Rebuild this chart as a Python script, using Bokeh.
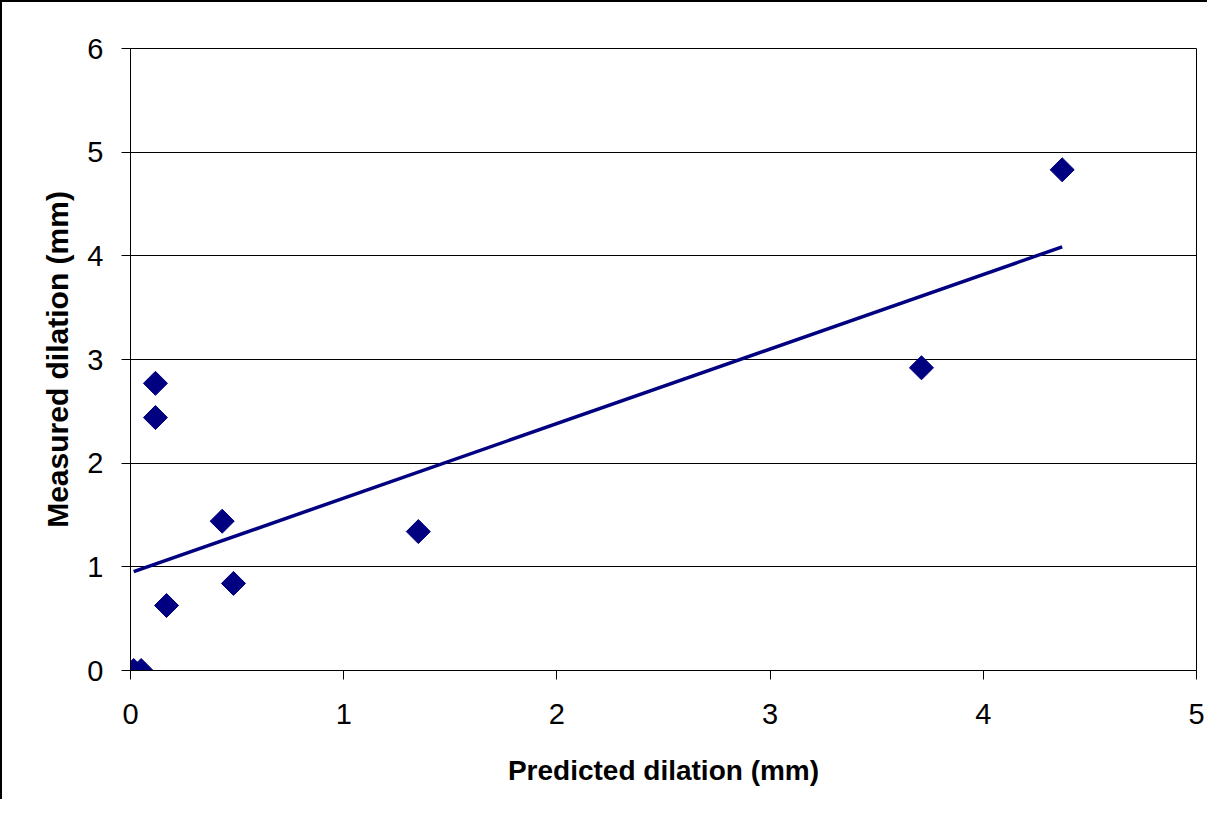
import numpy as np
from bokeh.plotting import figure
from bokeh.models import Range1d, FixedTicker, ColumnDataSource
from bokeh.embed import file_html
from bokeh.resources import INLINE

# Data
predicted = [0.015, 0.05, 0.117, 0.117, 0.169, 0.43, 0.483, 1.35, 3.71, 4.37]
measured = [0.0, 0.0, 2.77, 2.44, 0.627, 1.44, 0.84, 1.34, 2.92, 4.83]
x_ticks = [0, 1, 2, 3, 4, 5]
y_ticks = [0, 1, 2, 3, 4, 5, 6]

NAVY = "#000080"

p = figure(width=1207, height=799, output_backend="svg", toolbar_location=None,
           x_range=Range1d(0, 5), y_range=Range1d(0, 6),
           min_border_left=128, min_border_right=13, min_border_top=46, min_border_bottom=131)
p.styles = {"border-left": "2px solid black", "border-top": "2px solid black"}

p.outline_line_color = "black"
p.outline_line_width = 1

p.xgrid.grid_line_color = None
p.ygrid.grid_line_color = "black"
p.ygrid.grid_line_width = 1
p.ygrid.ticker = FixedTicker(ticks=y_ticks)

for ax in (p.xaxis, p.yaxis):
    ax.axis_line_color = "black"
    ax.axis_line_width = 1
    ax.major_tick_line_color = "black"
    ax.major_tick_out = 9
    ax.major_tick_in = 0
    ax.minor_tick_line_color = None
    ax.major_label_text_font = "Liberation Sans"
    ax.major_label_text_font_size = "29px"
    ax.major_label_text_color = "black"
    ax.axis_label_text_font = "Liberation Sans"
    ax.axis_label_text_font_style = "bold"
    ax.axis_label_text_color = "black"

p.xaxis.ticker = FixedTicker(ticks=x_ticks)
p.yaxis.ticker = FixedTicker(ticks=y_ticks)
p.xaxis.major_label_standoff = 24
p.yaxis.major_label_standoff = 18
p.xaxis.axis_label = "Predicted dilation (mm)"
p.yaxis.axis_label = "Measured dilation (mm)"
p.xaxis.axis_label_text_font_size = "28px"
p.yaxis.axis_label_text_font_size = "30px"
p.xaxis.axis_label_standoff = 28
p.yaxis.axis_label_standoff = 10

# Linear trendline (least squares fit of the data)
slope, intercept = np.polyfit(predicted, measured, 1)
tx = [min(predicted), max(predicted)]
ty = [intercept + slope * v for v in tx]
p.line(tx, ty, line_color=NAVY, line_width=3.5)

src = ColumnDataSource(dict(x=predicted, y=measured))
p.scatter("x", "y", source=src, marker="square", angle=np.pi / 4, size=17,
          fill_color=NAVY, line_color=NAVY)

open("out.html", "w").write(file_html(p, INLINE))
